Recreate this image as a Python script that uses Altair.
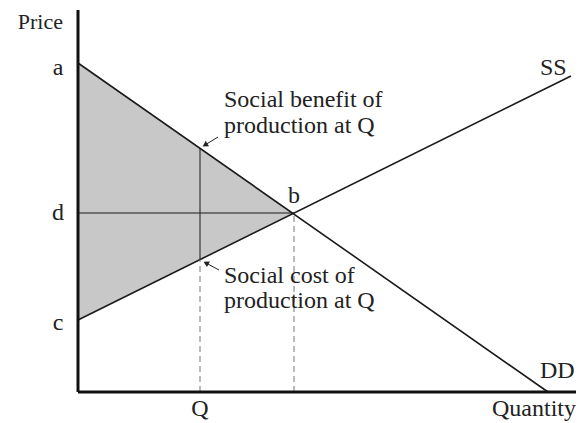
import altair as alt
import pandas as pd

# coordinate system: x = quantity units, y = price units (origin at axes corner)
W, H = 498, 382

# key points of the diagram
a_price = 329
c_price = 72
b_qty, b_price = 216, 179
dd_end_qty = 470
ss_end_qty, ss_end_price = 493, 316
q_qty = 122
dem_at_q = 243.6
sup_at_q = 132.4

# solid curves / lines
solid_x = [0, 0, q_qty, 0]
solid_y = [a_price, c_price, sup_at_q, b_price]
solid_x2 = [dd_end_qty, ss_end_qty, q_qty, b_qty]
solid_y2 = [0, ss_end_price, dem_at_q, b_price]
solid_w = [1.6, 1.6, 1.0, 1.0]

# dashed guides
dash_x = [q_qty, b_qty]
dash_y = [0, 0]
dash_y2 = [sup_at_q, b_price]

# shaded triangle
area_x = [0, b_qty]
area_top = [a_price, b_price]
area_bot = [c_price, b_price]

# labels
lab_text = ["Price", "a", "d", "c", "b", "Social benefit of", "production at Q",
            "Social cost of", "production at Q", "SS", "DD", "Quantity", "Q"]
lab_x = [-15, -20, -20, -20, 216, 146, 146, 146, 146, 462, 462, 498, 122]
lab_y = [363, 317, 172, 62, 189, 285, 259, 109, 84, 317, 14, -24, -24]
lab_size = [22, 24, 24, 24, 24, 24, 24, 24, 24, 24, 24, 24, 24]
lab_align = ["right", "center", "center", "center", "center", "left", "left",
             "left", "left", "left", "left", "right", "center"]

# arrows (tail -> tip)
arr_x = [140, 141]
arr_y = [255, 122]
arr_x2 = [127, 128]
arr_y2 = [247, 129]
arr_angle = [238, 298]

xs = alt.Scale(domain=[0, W], nice=False, zero=False)
ys = alt.Scale(domain=[0, H], nice=False, zero=False)

def X(f):
    return alt.X(f, type="quantitative", scale=xs, axis=None)

def Y(f):
    return alt.Y(f, type="quantitative", scale=ys, axis=None)

area_df = pd.DataFrame({"x": area_x, "y": area_top, "y2": area_bot})
area = alt.Chart(area_df).mark_area(color="#c8c8c8", opacity=1).encode(
    x=X("x"), y=Y("y"), y2="y2")

solid_df = pd.DataFrame({"x": solid_x, "y": solid_y, "x2": solid_x2, "y2": solid_y2, "w": solid_w})
solid = alt.Chart(solid_df).mark_rule(color="#1a1a1a").encode(
    x=X("x"), y=Y("y"), x2="x2", y2="y2",
    strokeWidth=alt.StrokeWidth("w:Q", scale=None))

dash_df = pd.DataFrame({"x": dash_x, "y": dash_y, "y2": dash_y2})
dash = alt.Chart(dash_df).mark_rule(color="#777777", strokeDash=[6, 4], strokeWidth=1).encode(
    x=X("x"), y=Y("y"), y2="y2")

axes_df = pd.DataFrame({"x": [0, 0], "y": [0, 0], "x2": [0, W], "y2": [H, 0]})
axes = alt.Chart(axes_df).mark_rule(color="#111111", strokeWidth=3).encode(
    x=X("x"), y=Y("y"), x2="x2", y2="y2")

arr_df = pd.DataFrame({"x": arr_x, "y": arr_y, "x2": arr_x2, "y2": arr_y2, "ang": arr_angle})
arr_line = alt.Chart(arr_df).mark_rule(color="#222222", strokeWidth=1).encode(
    x=X("x"), y=Y("y"), x2="x2", y2="y2")
arr_head = alt.Chart(arr_df).mark_point(shape="triangle-up", filled=True, color="#222222",
                                        size=40, opacity=1).encode(
    x=X("x2"), y=Y("y2"), angle=alt.Angle("ang:Q", scale=None))

lab_df = pd.DataFrame({"t": lab_text, "x": lab_x, "y": lab_y, "al": lab_align, "fs": lab_size})
labels = []
for al in ["left", "center", "right"]:
    labels.append(alt.Chart(lab_df[lab_df.al == al]).mark_text(
        align=al, baseline="alphabetic", font="Liberation Serif", color="#222222"
    ).encode(x=X("x"), y=Y("y"), text="t", size=alt.Size("fs:Q", scale=None)))

chart = alt.layer(area, solid, dash, axes, arr_line, arr_head, *labels).properties(
    width=W, height=H,
    autosize=alt.AutoSizeParams(type="none"),
    padding={"left": 70, "top": 2, "right": 0, "bottom": 31},
).configure_view(stroke=None)

chart.save("out.html", embed_options={"renderer": "svg", "actions": False})
